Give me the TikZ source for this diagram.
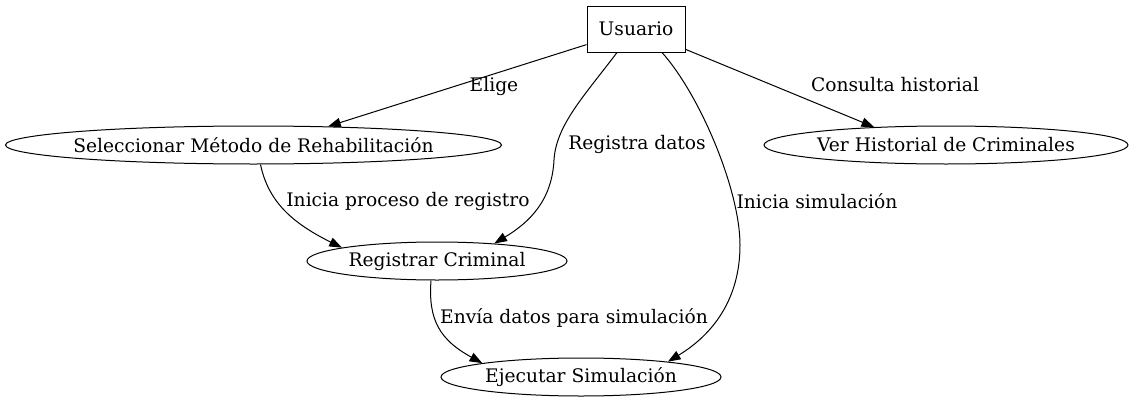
\documentclass[tikz,border=0pt]{standalone}
\usepackage{fontspec}
\setmainfont{DejaVu Serif}
\usetikzlibrary{shapes.geometric,arrows.meta}

\begin{document}
\begin{tikzpicture}
    [
        x=0.75pt,
        y=-0.75pt,
        every node/.style={font=\fontsize{14}{17}\selectfont},
        actor/.style={
                draw,
                rectangle,
                line width=0.75pt,
                inner sep=0pt,
                minimum width=73.5pt,
                minimum height=34.5pt,
            },
        usecase/.style={
                draw,
                ellipse,
                line width=0.75pt,
                inner ysep=0pt,
                inner xsep=-10pt,
                minimum height=28.5pt,
                minimum width=#1,
            },
        edge/.style={
                -{Triangle[length=9.5pt,width=7pt]},
                line width=0.75pt,
            },
        lbl/.style={inner sep=0pt},
    ]

    \useasboundingbox (0,0) rectangle (1135,407);

    % actor and use cases
    \node [actor] (usuario) at (636,29) {Usuario};
    \node [usecase=372pt] (metodo) at (253.5,145) {Seleccionar Método de Rehabilitación};
    \node [usecase=273pt] (historial) at (946,145) {Ver Historial de Criminales};
    \node [usecase=195pt] (registrar) at (437,261) {Registrar Criminal};
    \node [usecase=210pt] (simulacion) at (581,377) {Ejecutar Simulación};

    % edges from the actor
    \draw [edge] (usuario) -- (metodo.14)
        node [lbl] at (494,86) {Elige};
    \draw [edge] (usuario) -- (historial.166)
        node [lbl] at (895,85) {Consulta historial};
    \draw [edge] ([shift={(-19,0)}]usuario.south)
        .. controls (585,95) and (556,125) .. (554,160)
        .. controls (552,200) and (530,222) .. (registrar.17)
        node [lbl] at (637,144) {Registra datos};
    \draw [edge] ([shift={(26,0)}]usuario.south)
        .. controls (700,95) and (740,190) .. (740,245)
        .. controls (740,300) and (712,335) .. (simulacion.10)
        node [lbl] at (817,201) {Inicia simulación};

    % edges between use cases
    \draw [edge] ([shift={(7,0)}]metodo.south)
        .. controls (268,200) and (290,222) .. (registrar.172)
        node [lbl] at (408,201) {Inicia proceso de registro};
    \draw [edge] ([shift={(-6,0)}]registrar.south)
        .. controls (428,320) and (440,340) .. (simulacion.172)
        node [lbl] at (574,318) {Envía datos para simulación};
\end{tikzpicture}
\end{document}
